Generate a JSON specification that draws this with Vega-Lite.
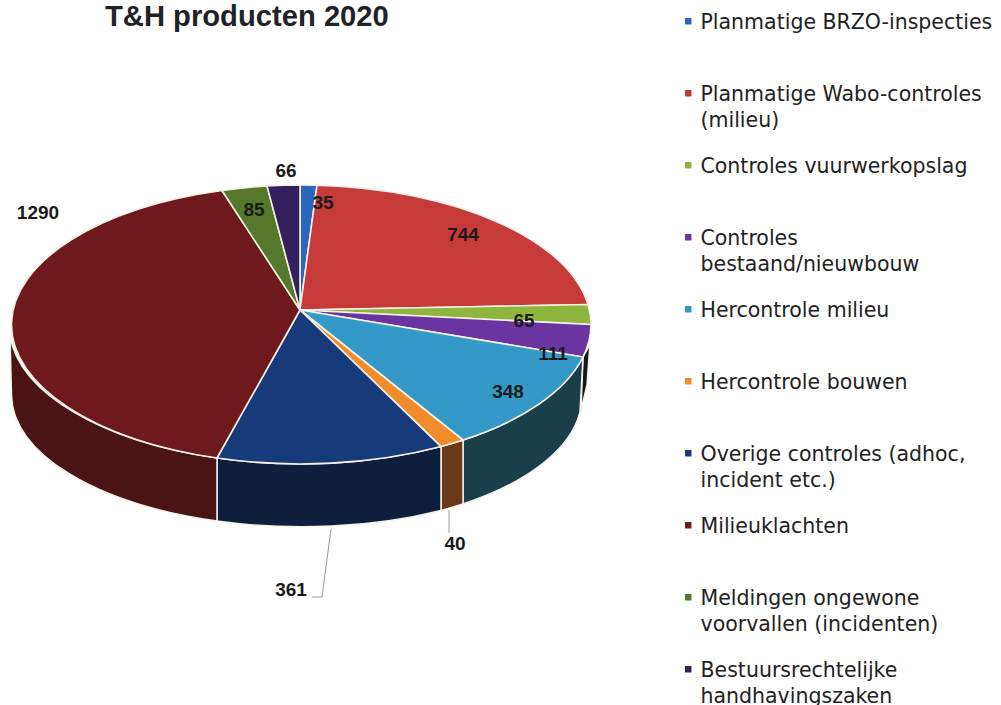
{
  "$schema": "https://vega.github.io/schema/vega-lite/v6.json",
  "width": 600,
  "height": 620,
  "autosize": "none",
  "padding": {"left": 0, "top": 0, "right": 401, "bottom": 85},
  "background": "white",
  "title": {"text": "T&H producten 2020", "anchor": "start", "frame": "group", "dx": 105, "dy": 36, "font": "Liberation Sans", "fontWeight": "bold", "fontSize": 29.2, "color": "#1f2327"},
  "data": {"values": [
    {"slice": "Planmatige BRZO-inspecties", "value": 35},
    {"slice": "Planmatige Wabo-controles|(milieu)", "value": 744},
    {"slice": "Controles vuurwerkopslag", "value": 65},
    {"slice": "Controles|bestaand/nieuwbouw", "value": 111},
    {"slice": "Hercontrole milieu", "value": 348},
    {"slice": "Hercontrole bouwen", "value": 40},
    {"slice": "Overige controles (adhoc,|incident etc.)", "value": 361},
    {"slice": "Milieuklachten", "value": 1290},
    {"slice": "Meldingen ongewone|voorvallen (incidenten)", "value": 85},
    {"slice": "Bestuursrechtelijke|handhavingszaken", "value": 66}
  ]},
  "layer": [
    {
      "transform": [{"filter": {"field": "slice", "oneOf": ["Controles|bestaand/nieuwbouw", "Hercontrole milieu", "Hercontrole bouwen", "Overige controles (adhoc,|incident etc.)", "Milieuklachten"]}}],
      "mark": {"type": "point", "filled": true, "size": 4, "stroke": "#f4f2ee", "strokeWidth": 1.5, "opacity": 1},
      "encoding": {
        "fill": {"field": "slice", "type": "nominal", "legend": null, "scale": {
          "domain": ["Controles|bestaand/nieuwbouw", "Hercontrole milieu", "Hercontrole bouwen", "Overige controles (adhoc,|incident etc.)", "Milieuklachten"],
          "range": ["#15151c", "#1b3f4a", "#6a3a18", "#0e1f3d", "#4a1414"]}},
        "shape": {"field": "slice", "type": "nominal", "legend": null, "scale": {
          "domain": ["Controles|bestaand/nieuwbouw", "Hercontrole milieu", "Hercontrole bouwen", "Overige controles (adhoc,|incident etc.)", "Milieuklachten"],
          "range": [
            "M 283 47 A 290.5 139.5 0 0 0 290 33 L 287 75 L 281 100 Z",
            "M 163 130 L 163 194 A 289 132 0 0 0 280 102 L 283 47 A 290.5 139.5 0 0 1 163 130 Z",
            "M 141 136.6 L 141 200.4 A 289 132 0 0 0 163 194 L 163 130 A 290.5 139.5 0 0 1 141 136.6 Z",
            "M -83 148 L -83 211 A 289 132 0 0 0 141 200.4 L 141 136.6 A 290.5 139.5 0 0 1 -83 148 Z",
            "M -290 26 L -288.5 85 A 289 132 0 0 0 -83 211 L -83 148 A 290.5 139.5 0 0 1 -290 26 Z"
          ]}}
      }
    },
    {
      "mark": {"type": "point", "filled": true, "size": 4, "stroke": "#f4f0e6", "strokeWidth": 1.6, "opacity": 1},
      "encoding": {
        "fill": {"field": "slice", "type": "nominal", "legend": null, "scale": {
          "domain": ["Planmatige BRZO-inspecties", "Planmatige Wabo-controles|(milieu)", "Controles vuurwerkopslag", "Controles|bestaand/nieuwbouw", "Hercontrole milieu", "Hercontrole bouwen", "Overige controles (adhoc,|incident etc.)", "Milieuklachten", "Meldingen ongewone|voorvallen (incidenten)", "Bestuursrechtelijke|handhavingszaken"],
          "range": ["#2a66bb", "#c63a3a", "#8fb53f", "#6a35a0", "#3499c6", "#f08c2c", "#163a7a", "#6e1a1c", "#56782a", "#33205e"]}},
        "shape": {"field": "slice", "type": "nominal", "legend": null, "scale": {
          "domain": ["Planmatige BRZO-inspecties", "Planmatige Wabo-controles|(milieu)", "Controles vuurwerkopslag", "Controles|bestaand/nieuwbouw", "Hercontrole milieu", "Hercontrole bouwen", "Overige controles (adhoc,|incident etc.)", "Milieuklachten", "Meldingen ongewone|voorvallen (incidenten)", "Bestuursrechtelijke|handhavingszaken"],
          "range": [
            "M 0 0 L 0 -125 A 290.5 139.5 0 0 1 17 -124.8 Z",
            "M 0 0 L 17 -124.8 A 290.5 139.5 0 0 1 288 -5.5 Z",
            "M 0 0 L 288 -5.5 A 290.5 139.5 0 0 1 291 14.5 Z",
            "M 0 0 L 291 14.5 A 290.5 139.5 0 0 1 283 47 Z",
            "M 0 0 L 283 47 A 290.5 139.5 0 0 1 163 130 Z",
            "M 0 0 L 163 130 A 290.5 139.5 0 0 1 141 136.6 Z",
            "M 0 0 L 141 136.6 A 290.5 139.5 0 0 1 -83 148 Z",
            "M 0 0 L -83 148 A 290.5 139.5 0 0 1 -78 -119.5 Z",
            "M 0 0 L -78 -119.5 A 290.5 139.5 0 0 1 -33 -124.1 Z",
            "M 0 0 L -33 -124.1 A 290.5 139.5 0 0 1 0 -125 Z"
          ]}}
      }
    },
    {
      "transform": [{"filter": {"field": "slice", "oneOf": ["Overige controles (adhoc,|incident etc.)", "Hercontrole bouwen"]}}],
      "mark": {"type": "point", "filled": false, "size": 4, "stroke": "#9a9a9a", "strokeWidth": 1, "opacity": 1},
      "encoding": {
        "shape": {"field": "slice", "type": "nominal", "legend": null, "scale": {
          "domain": ["Overige controles (adhoc,|incident etc.)", "Hercontrole bouwen"],
          "range": ["M 31 219 L 22 287 L 12 287", "M 149 200 L 149 223"]}}
      }
    },
    {
      "mark": {"type": "text", "font": "Liberation Sans", "fontWeight": "bold", "fontSize": 19, "color": "#1a1a1a", "align": "center", "baseline": "middle",
        "dx": {"expr": "{'35':23,'744':163,'65':224,'111':253,'348':208,'40':155,'361':-9,'1290':-262,'85':-46,'66':-14}[datum.value]"},
        "dy": {"expr": "{'35':-107,'744':-75,'65':11,'111':44,'348':82,'40':234,'361':280,'1290':-97,'85':-100,'66':-139}[datum.value]"}},
      "encoding": {
        "text": {"field": "value", "type": "quantitative"}
      }
    },
    {
      "transform": [{"filter": "false"}],
      "mark": {"type": "point", "filled": true, "opacity": 1},
      "encoding": {
        "color": {"field": "slice", "type": "nominal", "sort": null, "scale": {
          "domain": ["Planmatige BRZO-inspecties", "Planmatige Wabo-controles|(milieu)", "Controles vuurwerkopslag", "Controles|bestaand/nieuwbouw", "Hercontrole milieu", "Hercontrole bouwen", "Overige controles (adhoc,|incident etc.)", "Milieuklachten", "Meldingen ongewone|voorvallen (incidenten)", "Bestuursrechtelijke|handhavingszaken"],
          "range": ["#2a66bb", "#c63a3a", "#8fb53f", "#6a35a0", "#3499c6", "#f08c2c", "#163a7a", "#6e1a1c", "#56782a", "#33205e"]},
          "legend": {
            "title": null, "orient": "none", "legendX": 678, "legendY": 11,
            "symbolType": "square", "symbolSize": 42, "symbolStrokeWidth": 0,
            "labelFont": "DejaVu Sans", "labelFontSize": 20.5, "labelColor": "#222222", "labelLimit": 330, "labelOffset": 2,
            "labelExpr": "split(datum.label, '|')",
            "gridAlign": "all", "rowPadding": 23, "padding": 0,
            "labelBaseline": "top",
            "encoding": {"labels": {"dy": {"value": -8}, "lineHeight": {"value": 26}}}
          }}
      }
    }
  ],
  "resolve": {"scale": {"shape": "independent", "fill": "independent", "color": "independent"}}
}
